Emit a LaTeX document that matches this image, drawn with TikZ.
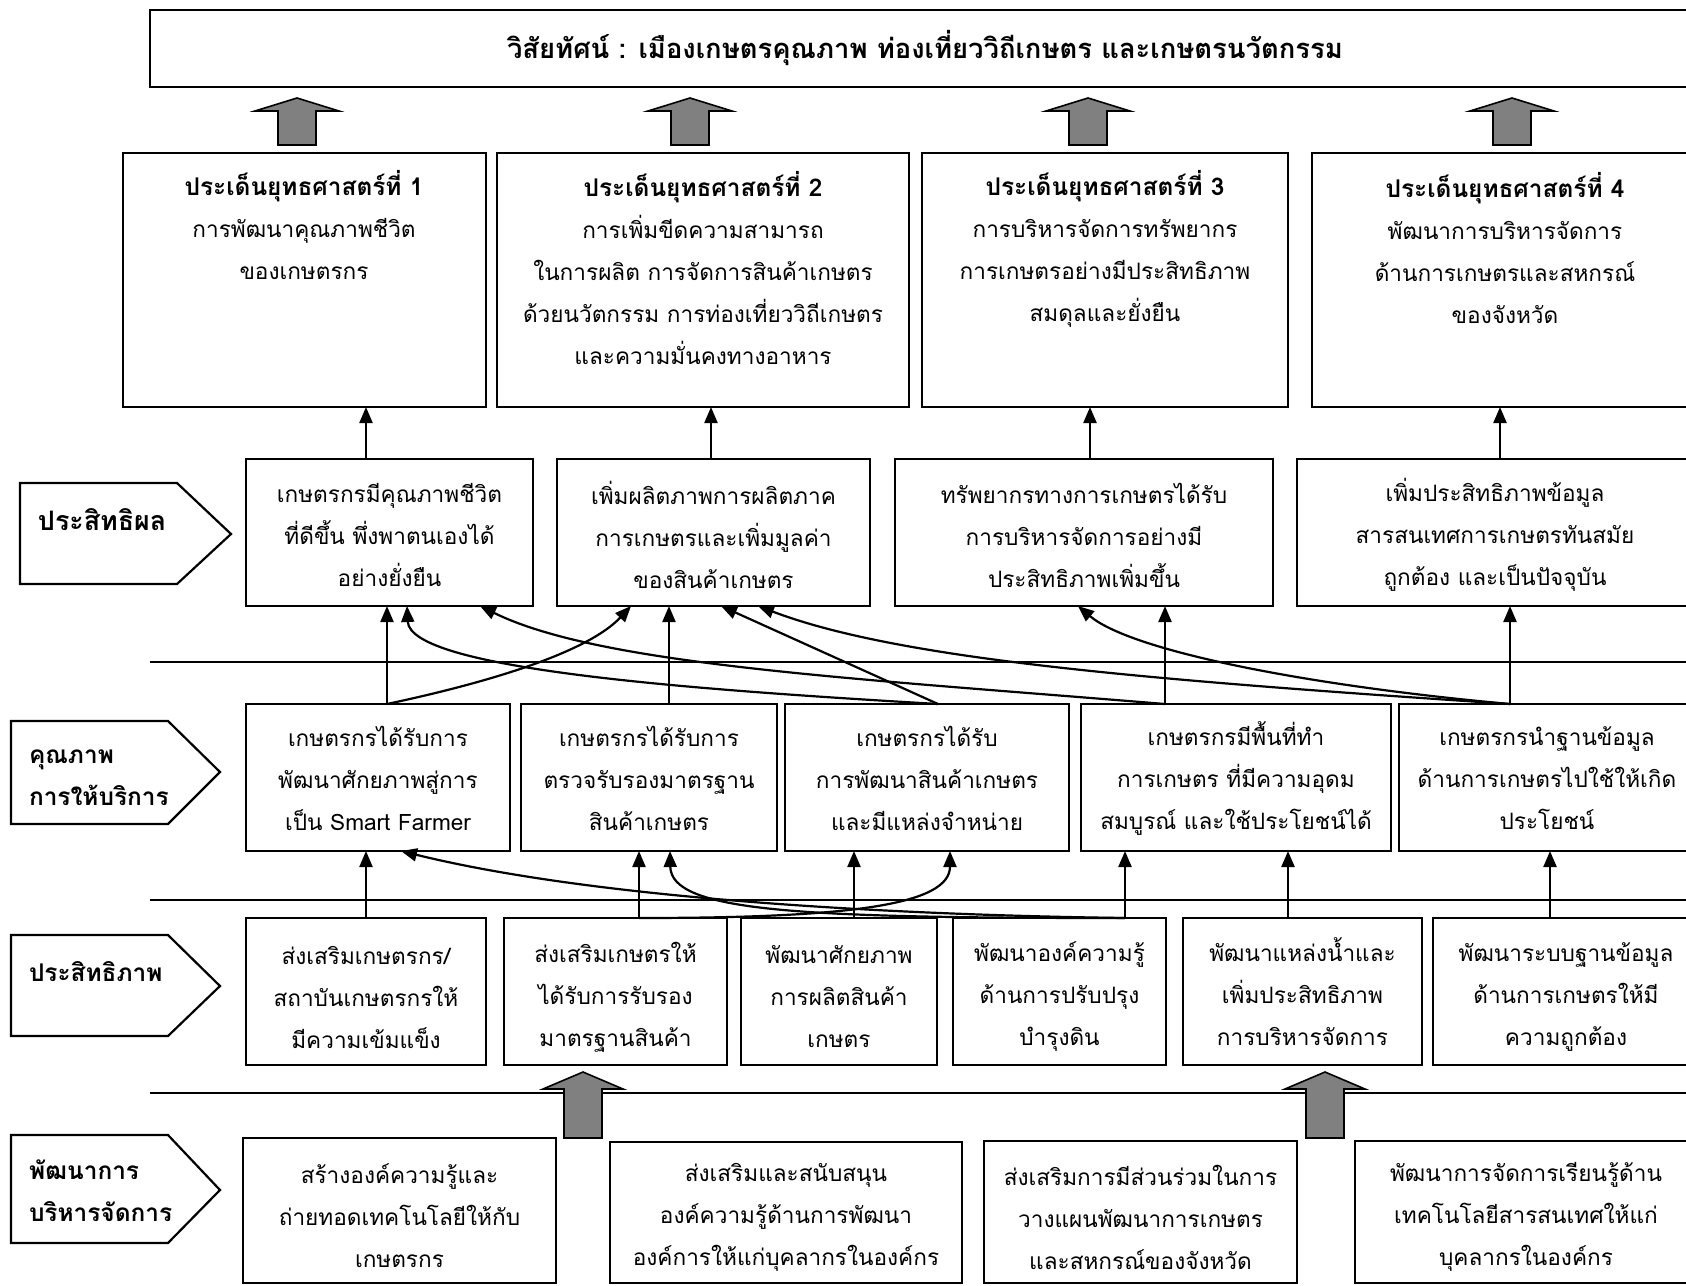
\documentclass[tikz,border=0pt]{standalone}
\usepackage{fontspec}
\newfontfamily\thai[Script=Thai]{Loma}
\usetikzlibrary{arrows.meta,fit}
\definecolor{biggray}{HTML}{808080}
\newcommand\headfont{\bfseries\fontsize{12.2pt}{21pt}\selectfont}
\begin{document}
\begin{tikzpicture}[x=0.5pt,y=-0.5pt,
  every node/.style={inner sep=0pt, outer sep=0pt},
  box/.style={draw, line width=1.1pt, inner sep=0pt, outer sep=0pt},
  txt/.style={font=\thai\fontsize{11.3pt}{21pt}\selectfont, align=center},
  lbl/.style={font=\thai\bfseries\fontsize{12.2pt}{21pt}\selectfont, align=left, anchor=west},
  arr/.style={-{Triangle[length=8pt,width=6.5pt]}, line width=1.1pt},
  sep/.style={line width=1pt},
  bigarrow/.style={draw, line width=0.8pt, fill=biggray, line join=miter}
]
\path[use as bounding box] (0,0) rectangle (1686,1285);
\fill[white] (0,0) rectangle (1686,1285);
\clip (0,0) rectangle (1686,1285);

% separators
\draw[sep] (150,662) -- (1686,662);
\draw[sep] (150,900) -- (1686,900);
\draw[sep] (150,1093) -- (1686,1093);

% left labels
\draw[line width=1.1pt] (20,483) -- (177,483) -- (231,534) -- (177,584) -- (20,584) -- cycle;
\draw[line width=1.1pt] (11,721) -- (168,721) -- (220,772) -- (168,824) -- (11,824) -- cycle;
\draw[line width=1.1pt] (11,935) -- (168,935) -- (220,986) -- (168,1036) -- (11,1036) -- cycle;
\draw[line width=1.1pt] (11,1135) -- (168,1135) -- (220,1190) -- (168,1243) -- (11,1243) -- cycle;
\node[lbl, font=\thai\bfseries\fontsize{13.4pt}{21pt}\selectfont] (lb1) at (38,520) {ประสิทธิผล};
\node[lbl] (lb2) at (29,778) {คุณภาพ\\การให้บริการ};
\node[lbl] (lb3) at (29,972) {ประสิทธิภาพ};
\node[lbl] (lb4) at (29,1191) {พัฒนาการ\\บริหารจัดการ};

% vision
\node[box, fit={(150,10) (1700,87)}] (vis) {};
\node[lbl, anchor=center, font=\thai\bfseries\fontsize{13.7pt}{21pt}\selectfont] (tvis) at (925,48) {วิสัยทัศน์ : เมืองเกษตรคุณภาพ ท่องเที่ยววิถีเกษตร และเกษตรนวัตกรรม};

% big arrows (top)
\draw[bigarrow] (297,98) -- ++(42,13) -- ++(-23,0) -- ++(0,34) -- ++(-38,0) -- ++(0,-34) -- ++(-23,0) -- cycle;
\draw[bigarrow] (690,98) -- ++(42,13) -- ++(-23,0) -- ++(0,34) -- ++(-38,0) -- ++(0,-34) -- ++(-23,0) -- cycle;
\draw[bigarrow] (1088,98) -- ++(42,13) -- ++(-23,0) -- ++(0,34) -- ++(-38,0) -- ++(0,-34) -- ++(-23,0) -- cycle;
\draw[bigarrow] (1512,98) -- ++(42,13) -- ++(-23,0) -- ++(0,34) -- ++(-38,0) -- ++(0,-34) -- ++(-23,0) -- cycle;

% level 1: strategic issues
\node[box, fit={(123,153) (486,407)}] (s1) {};
\node[box, fit={(497,153) (909,407)}] (s2) {};
\node[box, fit={(922,153) (1288,407)}] (s3) {};
\node[box, fit={(1312,153) (1698,407)}] (s4) {};
\node[txt] (t1) at (304,225) {{\headfont ประเด็นยุทธศาสตร์ที่ 1}\\การพัฒนาคุณภาพชีวิต\\ของเกษตรกร};
\node[txt] (t2) at (703,268) {{\headfont ประเด็นยุทธศาสตร์ที่ 2}\\การเพิ่มขีดความสามารถ\\ในการผลิต การจัดการสินค้าเกษตร\\ด้วยนวัตกรรม การท่องเที่ยววิถีเกษตร\\และความมั่นคงทางอาหาร};
\node[txt] (t3) at (1105,249) {{\headfont ประเด็นยุทธศาสตร์ที่ 3}\\การบริหารจัดการทรัพยากร\\การเกษตรอย่างมีประสิทธิภาพ\\สมดุลและยั่งยืน};
\node[txt] (t4) at (1505,248) {{\headfont ประเด็นยุทธศาสตร์ที่ 4}\\พัฒนาการบริหารจัดการ\\ด้านการเกษตรและสหกรณ์\\ของจังหวัด};

% level 2: effectiveness
\node[box, fit={(246,459) (533,606)}] (A) {};
\node[box, fit={(557,459) (870,606)}] (B) {};
\node[box, fit={(895,459) (1273,606)}] (C) {};
\node[box, fit={(1297,459) (1693,606)}] (D) {};
\node[txt] (tA) at (389.5,535) {เกษตรกรมีคุณภาพชีวิต\\ที่ดีขึ้น พึ่งพาตนเองได้\\อย่างยั่งยืน};
\node[txt] (tB) at (713.5,535) {เพิ่มผลิตภาพการผลิตภาค\\การเกษตรและเพิ่มมูลค่า\\ของสินค้าเกษตร};
\node[txt] (tC) at (1084,535) {ทรัพยากรทางการเกษตรได้รับ\\การบริหารจัดการอย่างมี\\ประสิทธิภาพเพิ่มขึ้น};
\node[txt] (tD) at (1495,535) {เพิ่มประสิทธิภาพข้อมูล\\สารสนเทศการเกษตรทันสมัย\\ถูกต้อง และเป็นปัจจุบัน};

% level 3: service quality
\node[box, fit={(246,704) (510,851)}] (E) {};
\node[box, fit={(521,704) (777,851)}] (F) {};
\node[box, fit={(785,704) (1069,851)}] (G) {};
\node[box, fit={(1081,704) (1391,851)}] (H) {};
\node[box, fit={(1399,704) (1695,851)}] (I) {};
\node[txt] (tE) at (378,778) {เกษตรกรได้รับการ\\พัฒนาศักยภาพสู่การ\\เป็น Smart Farmer};
\node[txt] (tF) at (649,778) {เกษตรกรได้รับการ\\ตรวจรับรองมาตรฐาน\\สินค้าเกษตร};
\node[txt] (tG) at (927,778) {เกษตรกรได้รับ\\การพัฒนาสินค้าเกษตร\\และมีแหล่งจำหน่าย};
\node[txt] (tH) at (1236,778) {เกษตรกรมีพื้นที่ทำ\\การเกษตร ที่มีความอุดม\\สมบูรณ์ และใช้ประโยชน์ได้};
\node[txt] (tI) at (1547,778) {เกษตรกรนำฐานข้อมูล\\ด้านการเกษตรไปใช้ให้เกิด\\ประโยชน์};

% level 4: efficiency
\node[box, fit={(246,918) (486,1065)}] (J) {};
\node[box, fit={(504,918) (727,1065)}] (K) {};
\node[box, fit={(741,918) (937,1065)}] (L) {};
\node[box, fit={(953,918) (1166,1065)}] (M) {};
\node[box, fit={(1183,918) (1422,1065)}] (N) {};
\node[box, fit={(1433,918) (1699,1065)}] (O) {};
\node[txt] (tJ) at (366,997) {ส่งเสริมเกษตรกร/\\สถาบันเกษตรกรให้\\มีความเข้มแข็ง};
\node[txt] (tK) at (615.5,997) {ส่งเสริมเกษตรให้\\ได้รับการรับรอง\\มาตรฐานสินค้า};
\node[txt] (tL) at (839,997) {พัฒนาศักยภาพ\\การผลิตสินค้า\\เกษตร};
\node[txt] (tM) at (1059.5,997) {พัฒนาองค์ความรู้\\ด้านการปรับปรุง\\บำรุงดิน};
\node[txt] (tN) at (1302.5,992) {พัฒนาแหล่งน้ำและ\\เพิ่มประสิทธิภาพ\\การบริหารจัดการ};
\node[txt] (tO) at (1566,997) {พัฒนาระบบฐานข้อมูล\\ด้านการเกษตรให้มี\\ความถูกต้อง};

% level 5: management development
\node[box, fit={(243,1138) (556,1283)}] (P) {};
\node[box, fit={(610,1142) (962,1283)}] (Q) {};
\node[box, fit={(984,1141) (1297,1283)}] (R) {};
\node[box, fit={(1355,1141) (1697,1283)}] (S) {};
\node[txt] (tP) at (399.5,1216) {สร้างองค์ความรู้และ\\ถ่ายทอดเทคโนโลยีให้กับ\\เกษตรกร};
\node[txt] (tQ) at (786,1217) {ส่งเสริมและสนับสนุน\\องค์ความรู้ด้านการพัฒนา\\องค์การให้แก่บุคลากรในองค์กร};
\node[txt] (tR) at (1140.5,1217) {ส่งเสริมการมีส่วนร่วมในการ\\วางแผนพัฒนาการเกษตร\\และสหกรณ์ของจังหวัด};
\node[txt] (tS) at (1526,1217) {พัฒนาการจัดการเรียนรู้ด้าน\\เทคโนโลยีสารสนเทศให้แก่\\บุคลากรในองค์กร};

% big arrows (bottom)
\draw[bigarrow] (583,1072) -- ++(40,17) -- ++(-21,0) -- ++(0,49) -- ++(-38,0) -- ++(0,-49) -- ++(-21,0) -- cycle;
\draw[bigarrow] (1325,1072) -- ++(40,17) -- ++(-21,0) -- ++(0,49) -- ++(-38,0) -- ++(0,-49) -- ++(-21,0) -- cycle;

% x positions of connector ends
\coordinate (v1) at (366,0);
\coordinate (v2) at (711,0);
\coordinate (v3) at (1090,0);
\coordinate (v4) at (1500,0);
\coordinate (cE) at (387,0);
\coordinate (cB1) at (631,0);
\coordinate (cF) at (669,0);
\coordinate (cG) at (938,0);
\coordinate (cB2) at (721,0);
\coordinate (cA2) at (407,0);
\coordinate (cC) at (1165,0);
\coordinate (cA3) at (480,0);
\coordinate (cI) at (1510,0);
\coordinate (cC2) at (1078,0);
\coordinate (cB3) at (758,0);
\coordinate (dJ) at (366,0);
\coordinate (dK) at (639,0);
\coordinate (dG2) at (950,0);
\coordinate (dL) at (854,0);
\coordinate (dM) at (1125,0);
\coordinate (dE2) at (401,0);
\coordinate (dF2) at (670,0);
\coordinate (dN) at (1288,0);
\coordinate (dO) at (1550,0);

% level 2 -> level 1
\draw[arr] (A.north -| v1) -- (s1.south -| v1);
\draw[arr] (B.north -| v2) -- (s2.south -| v2);
\draw[arr] (C.north -| v3) -- (s3.south -| v3);
\draw[arr] (D.north -| v4) -- (s4.south -| v4);

% level 3 -> level 2
\draw[arr] (E.north -| cE) -- (A.south -| cE);
\draw[arr] (E.north -| cE) .. controls (500,680) and (590,650) .. (B.south -| cB1);
\draw[arr] (F.north -| cF) -- (B.south -| cF);
\draw[arr] (G.north -| cG) -- (B.south -| cB2);
\draw[arr] (G.north -| cG) .. controls (700,690) and (410,670) .. (A.south -| cA2);
\draw[arr] (H.north -| cC) -- (C.south -| cC);
\draw[arr] (H.north -| cC) .. controls (850,678) and (600,665) .. (A.south -| cA3);
\draw[arr] (I.north -| cI) -- (D.south -| cI);
\draw[arr] (I.north -| cI) .. controls (1300,685) and (1130,650) .. (C.south -| cC2);
\draw[arr] (I.north -| cI) .. controls (1150,680) and (900,660) .. (B.south -| cB3);

% level 4 -> level 3
\draw[arr] (J.north -| dJ) -- (E.south -| dJ);
\draw[arr] (K.north -| dK) -- (F.south -| dK);
\draw[arr] (K.north -| dK) .. controls (850,918) and (950,905) .. (G.south -| dG2);
\draw[arr] (L.north -| dL) -- (G.south -| dL);
\draw[arr] (M.north -| dM) -- (H.south -| dM);
\draw[arr] (M.north -| dM) .. controls (900,915) and (600,900) .. (E.south -| dE2);
\draw[arr] (M.north -| dM) .. controls (800,918) and (671,912) .. (F.south -| dF2);
\draw[arr] (N.north -| dN) -- (H.south -| dN);
\draw[arr] (O.north -| dO) -- (I.south -| dO);
\end{tikzpicture}
\end{document}
